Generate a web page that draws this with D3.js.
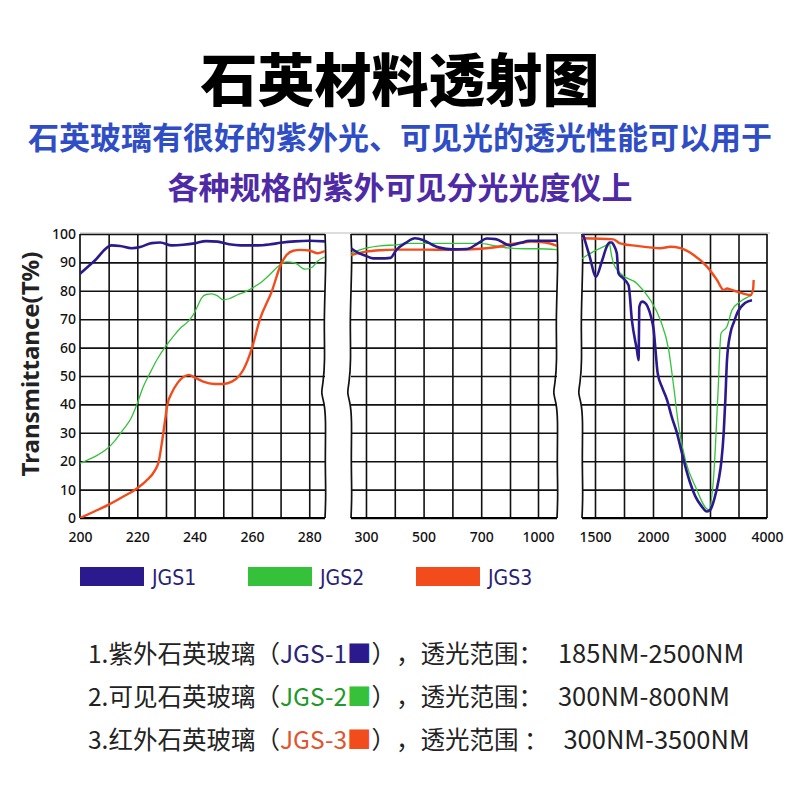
<!DOCTYPE html>
<html>
<head>
<meta charset="utf-8">
<script src="https://cdn.jsdelivr.net/npm/d3@7"></script>
<style>
  body { margin: 0; background: #fff; }
  svg { display: block; }
  text { text-spacing-trim: space-all; }
</style>
</head>
<body>
<div id="wrapper"></div>
<script>
// --- data: [wavelength nm, transmittance %] ---
const jgs1UV = [[200,86],[205,90.5],[211,96],[214,95.8],[218,95],[221,95.4],[225,96.8],[228,97],[232,96],[236,96.2],[240,96.7],[244,97.5],[248,97.3],[252,96.4],[256,96],[262,96],[266,96.3],[270,96.9],[275,97.4],[280,97.6],[285.5,97.4]]
const jgs2UV = [[200,19.3],[205,21.5],[209,24],[212,27],[215,31],[218,35.5],[220,40.4],[222,46],[224.4,51],[227,56],[230,60.6],[233,64.5],[235,66.8],[238,69.5],[239.5,71.5],[241,74.5],[242.4,77.4],[244,78.7],[246,78.9],[248,78.2],[250,76.8],[252,77.2],[255,78.6],[258,79.8],[260,80.9],[263,82.8],[266,85.5],[269,88.5],[272,90.2],[275,89.8],[278.5,87.6],[281,88.3],[283,90.5],[285.5,92]]
const jgs3UV = [[200,0],[205,2.3],[210,4.7],[215,7.5],[220,10.5],[223,13],[226,16.5],[227.5,20],[228.5,26],[229.5,33],[230.5,40],[232,44],[234,47.5],[236,49.6],[238,50.4],[240,49.5],[243,48],[247,47.2],[250,47.2],[253,48],[255.5,50],[257,52.2],[258.5,55.5],[260,59.8],[262.8,70],[267,80],[270,89],[272,92.5],[274.4,94.1],[277,94.4],[280,94.2],[283,93.2],[285.5,94]]

const jgs1Vis = [[248,95],[270,93.5],[300,92.3],[325,91.4],[350,91.4],[385,91.6],[405,94.3],[440,97],[470,98.5],[500,97.8],[530,96.2],[555,95.2],[600,94.6],[650,94.7],[690,96.8],[720,98.4],[750,98.2],[800,96],[870,96.8],[940,97.6],[1130,97.6]]
const jgs2Vis = [[248,93.3],[300,95],[350,95.8],[405,96.2],[450,96.7],[600,96.7],[695,96.7],[750,95.8],[800,95],[900,94.8],[1000,94.8],[1130,94.5]]
const jgs3Vis = [[248,92.6],[300,93.8],[350,94.3],[405,94.5],[500,94.5],[600,94.4],[700,94.8],[760,95.5],[800,96.4],[900,97],[950,97.3],[1050,97],[1130,95.8]]

const jgs1IR = [[1394,100],[1450,92.5],[1509,85],[1560,90.5],[1601,95.5],[1625,97],[1645,97],[1665,95.8],[1688,93.2],[1702,86.2],[1740,84.5],[1789,82],[1818,69.7],[1861,59.2],[1876,55.6],[1879,65],[1882,74.4],[1905,76.2],[1930,75.8],[1954,74.4],[1985,70.5],[2012,66.2],[2040,60],[2082,51],[2160,46],[2246,41.6],[2330,35.5],[2421,29.9],[2500,23.5],[2567,18.2],[2650,12.5],[2743,7.6],[2850,4.2],[2947,2.3],[3006,2.9],[3080,7],[3152,13.5],[3200,20],[3240,29.9],[3270,42],[3298,55.6],[3357,65],[3420,69],[3474,72],[3620,75.8],[3737,76.7]]
const jgs2IR = [[1385,91.4],[1486,93.8],[1587,95.8],[1624,96.7],[1640,93],[1659,89.7],[1717,86.2],[1861,82.6],[1977,76.8],[2129,69.7],[2275,59.2],[2363,46.3],[2450,32.3],[2567,20.5],[2743,11.1],[2977,2.9],[3064,14.6],[3140,44],[3193,65],[3298,67.4],[3386,73.2],[3532,76.2],[3737,78.5]]
const jgs3IR = [[1385,98.5],[1659,98.1],[1717,96.7],[1861,95.8],[2129,95],[2304,95.5],[2480,95],[2713,92.6],[2947,88.5],[3123,83.8],[3240,80.3],[3300,80.8],[3357,80.5],[3474,79.7],[3708,78.5],[3755,80.3],[3766,83.8]]

const yTicks = [0,10,20,30,40,50,60,70,80,90,100]
const uvGrid = [210,220,230,240,250,260,270,280]
const uvLabels = [200,220,240,260,280]
const visGrid = [300,400,500,600,700,800,1000]
const visLabels = [300,500,700,1000]
const irGrid = [1500,1750,2000,2500,3000,3500]
const irLabels = [1500,2000,3000,4000]

const seriesNames = ["JGS1", "JGS2", "JGS3"]
const seriesColors = ["#2b1a8e", "#35c23a", "#f24c1c"]
const seriesWidths = [2.6, 1.3, 2.4]

const noteNums = ["1.", "2.", "3."]
const noteNames = ["紫外石英玻璃", "可见石英玻璃", "红外石英玻璃"]
const noteCodes = ["JGS-1", "JGS-2", "JGS-3"]
const noteCodeColors = ["#2a2478", "#1f9a2a", "#e0552e"]
const noteRanges = ["185NM-2500NM", "300NM-800NM", "300NM-3500NM"]
const noteColons = ["：", "：", " ："]

// --- layout ---
const width = 800
const height = 800

const svg = d3.select("#wrapper")
    .append("svg")
    .attr("width", width)
    .attr("height", height)

const cjk = "'Noto Sans CJK SC', 'Noto Sans', sans-serif"
const latin = "'Noto Sans', 'Open Sans', sans-serif"

svg.append("text")
    .attr("x", 400).attr("y", 101)
    .attr("text-anchor", "middle")
    .style("font-family", cjk)
    .style("font-weight", 900)
    .style("font-size", "57px")
    .attr("fill", "#000")
    .text("石英材料透射图")

svg.append("text")
    .attr("x", 400).attr("y", 149)
    .attr("text-anchor", "middle")
    .style("font-family", cjk)
    .style("font-weight", 700)
    .style("font-size", "31px")
    .attr("fill", "#2f4ec6")
    .text("石英玻璃有很好的紫外光、可见光的透光性能可以用于")

svg.append("text")
    .attr("x", 400).attr("y", 199)
    .attr("text-anchor", "middle")
    .style("font-family", cjk)
    .style("font-weight", 700)
    .style("font-size", "31px")
    .attr("fill", "#4e2aa6")
    .text("各种规格的紫外可见分光光度仪上")

// --- scales ---
const yScale = d3.scaleLinear().domain([0, 100]).range([518, 234])

const panels = [
    {
        x: d3.scaleLinear().domain([200, 285.5]).range([80, 325]),
        grid: uvGrid, labels: uvLabels,
        series: [jgs1UV, jgs2UV, jgs3UV], left: "straight", right: "wavy"
    },
    {
        x: d3.scaleLinear().domain([248, 800, 1000, 1130]).range([351, 510, 538, 557]),
        grid: visGrid, labels: visLabels,
        series: [jgs1Vis, jgs2Vis, jgs3Vis], left: "wavy", right: "wavy"
    },
    {
        x: d3.scaleLinear().domain([1385, 1500, 2000, 4000]).range([582, 595, 653, 767]),
        grid: irGrid, labels: irLabels,
        series: [jgs1IR, jgs2IR, jgs3IR], left: "wavy", right: "straight"
    },
]

// faint line running along the top of the plot
svg.append("line")
    .attr("x1", 80).attr("x2", 770)
    .attr("y1", yScale(100) - 1).attr("y2", yScale(100) - 1)
    .attr("stroke", "#bbb")
    .attr("stroke-width", 1)

// small wobble for the broken edges (offset px at a given %)
const wobble = [[100,0],[92,1],[80,0],[68,-1],[55,0],[47,-2],[44,-4],[41,-1],[35,1],[20,0],[8,1],[0,0]]

const gridColor = "#111"

panels.forEach((p, i) => {
    const [x0, x1] = [p.x.range()[0], p.x.range()[p.x.range().length - 1]]
    const g = svg.append("g")

    const clipId = "clip" + i
    svg.append("clipPath").attr("id", clipId)
        .append("rect")
        .attr("x", x0).attr("y", yScale(100) - 4)
        .attr("width", x1 - x0).attr("height", yScale(0) - yScale(100) + 4)

    // horizontal grid
    g.append("g")
        .attr("transform", `translate(${x0},0)`)
        .call(d3.axisLeft(yScale).tickValues(yTicks).tickSize(-(x1 - x0)).tickFormat(""))
        .call(s => s.select(".domain").remove())
        .call(s => s.selectAll(".tick line").attr("stroke", gridColor).attr("stroke-width", 1.6))

    // vertical grid
    g.append("g")
        .attr("transform", `translate(0,${yScale(0)})`)
        .call(d3.axisBottom(p.x).tickValues(p.grid).tickSize(-(yScale(0) - yScale(100))).tickFormat(""))
        .call(s => s.select(".domain").remove())
        .call(s => s.selectAll(".tick line").attr("stroke", gridColor).attr("stroke-width", 1.6))

    // bottom labels
    g.append("g")
        .attr("transform", `translate(0,${yScale(0)})`)
        .call(d3.axisBottom(p.x).tickValues(p.labels).tickSize(0).tickPadding(14).tickFormat(d3.format("d")))
        .call(s => s.select(".domain").remove())
        .call(s => s.selectAll("text")
            .attr("fill", "#111")
            .style("font-family", latin)
            .style("font-weight", 500)
            .style("font-size", "14px"))

    // edges
    const edge = (xPos, kind) => {
        const pts = kind === "wavy" ? wobble : [[100,0],[0,0]]
        g.append("path")
            .attr("d", d3.line()
                .x(d => xPos + d[1])
                .y(d => yScale(d[0]))
                .curve(d3.curveBasis)(pts))
            .attr("fill", "none")
            .attr("stroke", gridColor)
            .attr("stroke-width", 1.7)
    }
    edge(x0, p.left)
    edge(x1, p.right)

    g.append("line")
        .attr("x1", x0).attr("x2", x1)
        .attr("y1", yScale(0)).attr("y2", yScale(0))
        .attr("stroke", "#000").attr("stroke-width", 2.2)

    // curves (green under, then red, blue on top like the picture)
    const order = [1, 2, 0]
    const line = d3.line()
        .x(d => p.x(d[0]))
        .y(d => yScale(d[1]))
        .curve(d3.curveMonotoneX)

    g.append("g")
        .attr("clip-path", `url(#${clipId})`)
        .selectAll("path")
        .data(order)
        .join("path")
        .attr("d", k => line(p.series[k]))
        .attr("fill", "none")
        .attr("stroke", k => seriesColors[k])
        .attr("stroke-width", k => seriesWidths[k])
        .attr("stroke-linejoin", "round")
})

// y axis labels on the first panel
svg.append("g")
    .attr("transform", `translate(${panels[0].x.range()[0]},0)`)
    .call(d3.axisLeft(yScale).tickValues(yTicks).tickSize(0).tickPadding(4))
    .call(s => s.select(".domain").remove())
    .call(s => s.selectAll("text")
        .attr("fill", "#111")
        .style("font-family", latin)
        .style("font-weight", 500)
        .style("font-size", "14px"))

svg.append("text")
    .attr("transform", `translate(39,364) rotate(-90)`)
    .attr("text-anchor", "middle")
    .style("font-family", latin)
    .style("font-weight", "bold")
    .style("font-size", "24px")
    .attr("fill", "#222")
    .text("Transmittance(T%)")

// --- legend ---
const legend = svg.append("g")
    .selectAll("g")
    .data(seriesNames)
    .join("g")
    .attr("transform", (d, i) => `translate(${80 + i * 168},567)`)

legend.append("rect")
    .attr("width", 64).attr("height", 19)
    .attr("fill", (d, i) => seriesColors[i])

legend.append("text")
    .attr("x", 72).attr("y", 18)
    .style("font-family", "'DejaVu Sans Condensed', 'DejaVu Sans', sans-serif")
    .style("font-weight", 300)
    .style("font-size", "21px")
    .attr("fill", "#2a1f74")
    .text(d => d)

// --- notes ---
const notes = svg.append("g")
    .selectAll("text")
    .data(noteNames)
    .join("text")
    .attr("x", 88)
    .attr("y", (d, i) => 663 + i * 43)
    .attr("xml:space", "preserve")
    .style("font-family", cjk)
    .style("font-size", "24.5px")
    .attr("fill", "#222")

notes.append("tspan").text((d, i) => noteNums[i] + d + "（")
notes.append("tspan").attr("fill", (d, i) => noteCodeColors[i]).text((d, i) => noteCodes[i])
notes.append("tspan").attr("fill", (d, i) => seriesColors[i]).text("■")
notes.append("tspan").text((d, i) => "），透光范围" + noteColons[i] + "\u00a0\u00a0")
notes.append("tspan").style("font-size", "25.5px").attr("dx", 4).text((d, i) => noteRanges[i])
</script>
</body>
</html>
